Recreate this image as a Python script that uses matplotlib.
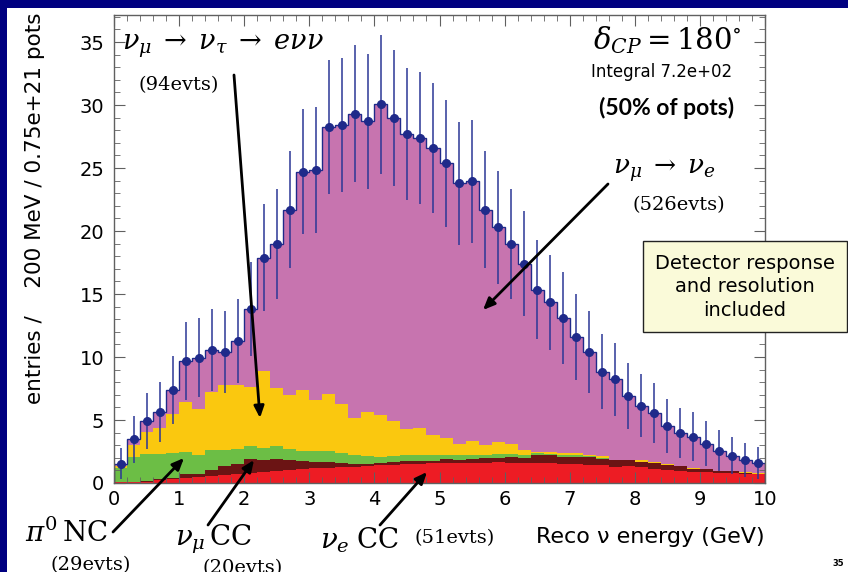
import numpy as np
import matplotlib
matplotlib.use("Agg")
import matplotlib.pyplot as plt
from matplotlib.patches import Rectangle
from matplotlib.ticker import MultipleLocator

plt.rcParams['font.family'] = ['DejaVu Sans']
plt.rcParams['mathtext.fontset'] = 'dejavuserif'

# reco energy bins, 200 MeV wide
edges = np.linspace(0, 10, 51)

# data points = total prediction (entries / 200 MeV)
total = [1.51, 3.47, 4.9, 5.67, 7.4, 9.68, 9.94, 10.53, 10.4, 11.27,
         13.8, 17.9, 19.0, 21.7, 24.7, 24.85, 28.24, 28.43, 29.33, 28.7,
         30.05, 29.0, 27.7, 27.4, 26.6, 25.4, 23.8, 23.95, 21.7, 20.3,
         18.96, 17.42, 15.35, 14.35, 13.1, 11.6, 10.4, 8.83, 8.22, 6.87,
         6.15, 5.57, 4.53, 3.98, 3.69, 3.13, 2.57, 2.17, 1.8, 1.62]

# stacked tops, bottom to top: nue CC, numu CC, pi0 NC, nutau
top_nue_cc = [0.05, 0.07, 0.1, 0.2, 0.3, 0.4, 0.5, 0.58, 0.66, 0.74,
              0.82, 0.9, 0.97, 1.04, 1.1, 1.16, 1.22, 1.26, 1.28, 1.34,
              1.39, 1.45, 1.47, 1.52, 1.55, 1.58, 1.58, 1.6, 1.6, 1.63,
              1.62, 1.59, 1.6, 1.55, 1.53, 1.52, 1.42, 1.4, 1.27, 1.31,
              1.26, 1.13, 1.07, 0.99, 0.91, 0.86, 0.78, 0.78, 0.73, 0.68]
top_numu_cc = [0.05, 0.07, 0.12, 0.28, 0.41, 0.68, 0.72, 1.05, 1.31, 1.52,
               1.87, 1.79, 1.9, 1.79, 1.71, 1.63, 1.63, 1.6, 1.52, 1.52,
               1.59, 1.63, 1.71, 1.71, 1.71, 1.87, 1.79, 1.93, 2.0, 2.0,
               2.05, 2.0, 2.24, 2.19, 2.05, 2.05, 2.05, 1.87, 1.79, 1.79,
               1.66, 1.6, 1.45, 1.31, 1.13, 1.08, 0.94, 0.94, 0.81, 0.73]
top_pi0_nc = [1.18, 2.05, 2.32, 2.27, 2.37, 2.45, 2.24, 2.59, 2.59, 2.66,
              2.93, 2.8, 2.9, 2.69, 2.53, 2.53, 2.52, 2.37, 2.24, 2.11,
              2.05, 2.16, 2.24, 2.24, 2.24, 2.19, 2.19, 2.22, 2.24, 2.3,
              2.3, 2.19, 2.35, 2.3, 2.19, 2.19, 2.13, 1.95, 1.82, 1.82,
              1.7, 1.62, 1.46, 1.32, 1.15, 1.1, 0.96, 0.96, 0.83, 0.75]
top_nutau = [1.35, 3.02, 4.08, 4.4, 5.49, 6.42, 5.91, 7.19, 7.74, 7.74,
             7.66, 8.86, 7.58, 6.95, 7.37, 6.58, 7.03, 6.24, 5.19, 5.63,
             5.37, 4.89, 4.26, 4.39, 3.78, 3.57, 3.12, 3.36, 3.01, 3.25,
             3.12, 2.64, 2.45, 2.45, 2.37, 2.37, 2.24, 2.11, 1.84, 1.84,
             1.79, 1.63, 1.47, 1.33, 1.21, 1.15, 0.99, 0.99, 0.86, 0.78]

c_nue = '#ED1C24'
c_numu = '#6B1414'
c_pi0 = '#6CBE45'
c_tau = '#FAC80F'
c_sig = '#C774AF'
navy = '#1F2A8A'

W, H = 848, 572
fig = plt.figure(figsize=(W / 100, H / 100), dpi=100, facecolor='#000080')
fig.patches.append(Rectangle((7 / W, 0), 1, 1 - 8 / H, transform=fig.transFigure,
                             facecolor='white', edgecolor='none', zorder=-10))


def fp(x, y):
    # image pixel (from top-left) -> figure fraction
    return x / W, 1 - y / H


ax = fig.add_axes([114 / W, 1 - 483 / H, (765 - 114) / W, (483 - 15) / H])
ax.set_facecolor('white')

ax.stairs(total, edges, baseline=top_nutau, fill=True, color=c_sig, lw=0)
ax.stairs(top_nutau, edges, baseline=top_pi0_nc, fill=True, color=c_tau, lw=0)
ax.stairs(top_pi0_nc, edges, baseline=top_numu_cc, fill=True, color=c_pi0, lw=0)
ax.stairs(top_numu_cc, edges, baseline=top_nue_cc, fill=True, color=c_numu, lw=0)
ax.stairs(top_nue_cc, edges, baseline=0, fill=True, color=c_nue, lw=0)
ax.stairs(total, edges, color=navy, lw=1)

centers = (edges[:-1] + edges[1:]) / 2
tot = np.array(total)
ax.errorbar(centers, tot, yerr=np.sqrt(tot), fmt='o', ms=5.5, color=navy,
            ecolor='#2B3796', elinewidth=1.1, capsize=0, zorder=5)

ax.set_xlim(0, 10)
ax.set_ylim(0, 37.15)
ax.xaxis.set_major_locator(MultipleLocator(1))
ax.xaxis.set_minor_locator(MultipleLocator(0.2))
ax.yaxis.set_major_locator(MultipleLocator(5))
ax.yaxis.set_minor_locator(MultipleLocator(1))
ax.tick_params(which='both', direction='in', top=True, right=True, color='#606060',
               labelsize=14)
ax.tick_params(which='major', length=8)
ax.tick_params(which='minor', length=4)
ax.tick_params(axis='y', pad=7)
ax.tick_params(axis='x', pad=5)
for s in ax.spines.values():
    s.set_color('#606060')
    s.set_linewidth(1)

# axis titles
fig.text(*fp(35, 13), 'entries /    200 MeV / 0.75e+21 pots', rotation=90,
         ha='center', va='top', fontsize=15.5)
fig.text(*fp(765, 537), u'Reco \u03bd energy (GeV)', ha='right', va='center', fontsize=16)

# labels inside
serif = 'DejaVu Serif'
fig.text(*fp(122, 46), r'$\nu_\mu \;\rightarrow\; \nu_\tau \;\rightarrow\; e\nu\nu$',
         ha='left', va='center', fontsize=19.5)
fig.text(*fp(138, 85), '(94evts)', ha='left', va='center', fontsize=14, family=serif)
fig.text(*fp(742, 40), r'$\delta_{CP} = 180^{\circ}$', ha='right', va='center', fontsize=21)
fig.text(*fp(732, 72), 'Integral 7.2e+02', ha='right', va='center', fontsize=12)
fig.text(*fp(734, 108), '(50% of pots)', ha='right', va='center', fontsize=16.5,
         family='Lato', fontweight='bold')
fig.text(*fp(613, 171), r'$\nu_\mu \;\rightarrow\; \nu_e$', ha='left', va='center',
         fontsize=19)
fig.text(*fp(725, 205), '(526evts)', ha='right', va='center', fontsize=14, family=serif)

# labels below the axis
fig.text(*fp(25, 533), r'$\pi^0\,\mathrm{NC}$', ha='left', va='center', fontsize=20)
fig.text(*fp(50, 556), '(29evts)', ha='left', va='top', fontsize=14, family=serif)
fig.text(*fp(175, 539), r'$\nu_\mu\,\mathrm{CC}$', ha='left', va='center', fontsize=20)
fig.text(*fp(203, 559), '(20evts)', ha='left', va='top', fontsize=14, family=serif)
fig.text(*fp(320, 540), r'$\nu_e\;\mathrm{CC}$', ha='left', va='center', fontsize=20)
fig.text(*fp(415, 538), '(51evts)', ha='left', va='center', fontsize=14, family=serif)
fig.text(*fp(838, 563), '35', ha='center', va='center', fontsize=6, fontweight='bold')

arrows = [((234, 75), (260, 418)),
          ((608, 184), (483, 310)),
          ((113, 532), (184, 458)),
          ((208, 525), (254, 460)),
          ((380, 525), (427, 472))]
for (x0, y0), (x1, y1) in arrows:
    ax.annotate('', xy=(x1, H - y1), xycoords='figure pixels',
                xytext=(x0, H - y0), textcoords='figure pixels',
                arrowprops=dict(arrowstyle='-|>,head_length=0.7,head_width=0.3',
                                lw=2, color='black', shrinkA=0, shrinkB=0),
                annotation_clip=False, zorder=10)

# detector box
fig.patches.append(Rectangle((643 / W, 1 - 332 / H), (847 - 643) / W, 91 / H,
                             transform=fig.transFigure, facecolor='#FAFAD9',
                             edgecolor='#222222', lw=1, zorder=5))
fig.text(*fp(745, 287), 'Detector response\nand resolution\nincluded', ha='center',
         va='center', fontsize=14, linespacing=1.3, zorder=6)

fig.savefig('out.png', dpi=100, facecolor=fig.get_facecolor())
